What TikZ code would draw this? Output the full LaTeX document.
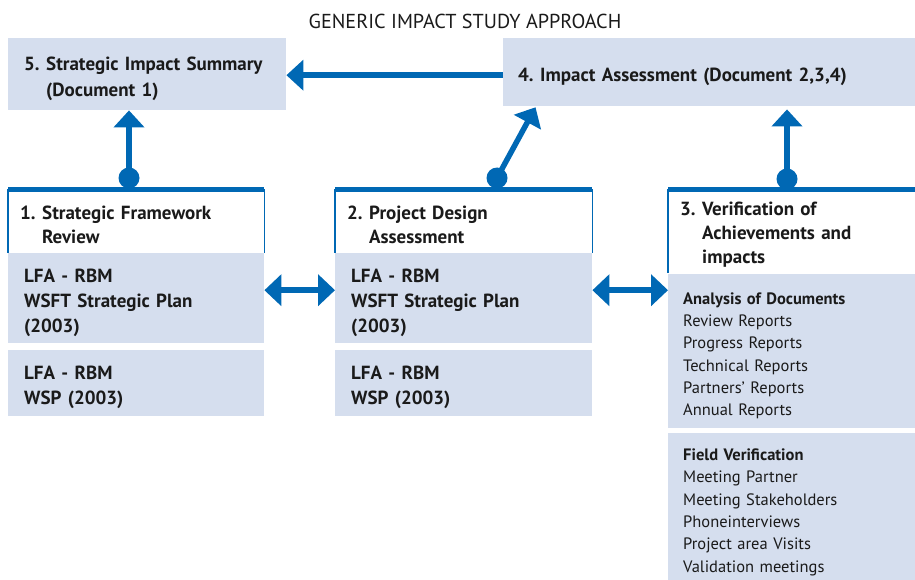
\documentclass[tikz,border=0pt]{standalone}
\usepackage{fontspec}
\setmainfont{PT Sans}
\usetikzlibrary{arrows.meta,positioning}
\definecolor{boxblue}{RGB}{213,222,238}
\definecolor{flowblue}{RGB}{0,104,180}
\definecolor{inktext}{RGB}{26,26,26}
\newcommand{\stepnum}[1]{\makebox[22pt][l]{#1}}

\begin{document}
\begin{tikzpicture}[x=1pt, y=-1pt,
  panel/.style={fill=boxblue, anchor=north west, inner xsep=16pt, inner ysep=0pt, align=left, text=inktext, font=\fontsize{19}{25}\selectfont\bfseries, execute at begin node={\rule{0pt}{22pt}}},
  header/.style={fill=white, anchor=north west, inner xsep=12pt, inner ysep=0pt, align=left, text=inktext, font=\fontsize{19}{24}\selectfont\bfseries, execute at begin node={\rule{0pt}{20pt}}},
  listpanel/.style={panel, inner xsep=15pt, font=\fontsize{16.5}{22.3}\selectfont, execute at begin node={\rule{0pt}{20pt}}},
  dot/.style={circle, fill=flowblue, minimum size=21pt, inner sep=0pt},
  flow/.style={draw=flowblue, line width=5.5pt, -{Triangle[width=30pt,length=17pt]}},
  both/.style={draw=flowblue, line width=5.5pt, {Triangle[width=31pt,length=17pt]}-{Triangle[width=31pt,length=17pt]}},
  rim/.style={draw=flowblue, line width=1.5pt},
  topline/.style={draw=flowblue, line width=5pt}]

   \useasboundingbox (0,0) rectangle (915,580);

   % Title
   \node[font=\fontsize{20.2}{23}\selectfont, text=inktext] (title) at (465,21) {GENERIC IMPACT STUDY APPROACH};

   % Define the top row
   \node[panel, font=\fontsize{19}{26}\selectfont\bfseries, text width=246pt, minimum height=72pt] (summary) at (8,38) {\stepnum{5.}Strategic Impact Summary\\\stepnum{}(Document 1)};
   \node[panel, inner xsep=15pt, text width=382pt, minimum height=68pt] (assess) at (503,38) {\stepnum{4.}Impact Assessment (Document 2,3,4)};

   % Define the column heads
   \node[header, text width=232pt, minimum height=63.5pt] (frame_head) at (8,189.5) {\stepnum{1.}Strategic Framework\\\stepnum{}Review};
   \node[header, text width=233pt, minimum height=63.5pt] (design_head) at (335,189.5) {\stepnum{2.}Project Design\\\stepnum{}Assessment};
   \node[header, text width=223pt, minimum height=83.5pt] (verif_head) at (668,189.5) {\stepnum{3.}Verification of\\\stepnum{}Achievements and\\\stepnum{}impacts};

   % Define the column boxes
   \node[panel, text width=224pt, minimum height=90pt] (frame_plan) at (8,253) {LFA - RBM\\WSFT Strategic Plan\\(2003)};
   \node[panel, text width=224pt, minimum height=66pt, below=6pt of frame_plan] (frame_wsp) {LFA - RBM\\WSP (2003)};
   \node[panel, text width=225pt, minimum height=90pt] (design_plan) at (335,253) {LFA - RBM\\WSFT Strategic Plan\\(2003)};
   \node[panel, text width=225pt, minimum height=66pt, below=6pt of design_plan] (design_wsp) {LFA - RBM\\WSP (2003)};
   \node[listpanel, text width=217pt, minimum height=154pt, below=0pt of verif_head] (verif_docs) {\textbf{Analysis of Documents}\\Review Reports\\Progress Reports\\Technical Reports\\Partners' Reports\\Annual Reports};
   \node[listpanel, text width=217pt, minimum height=148pt, below=5pt of verif_docs] (verif_field) {\textbf{Field Verification}\\Meeting Partner\\Meeting Stakeholders\\Phoneinterviews\\Project area Visits\\Validation meetings};

   % Head frames
   \draw[rim] (frame_head.north west) -- (frame_head.south west);
   \draw[rim] (frame_head.north east) -- (frame_head.south east);
   \draw[rim] (design_head.north west) -- (design_head.south west);
   \draw[rim] (design_head.north east) -- (design_head.south east);
   \draw[rim] (verif_head.north west) -- (verif_head.south west);
   \draw[topline] (frame_head.north west) -- (frame_head.north east);
   \draw[topline] (design_head.north west) -- (design_head.north east);
   \draw[topline] (verif_head.north west) -- (verif_head.north east);

   \node[dot] (frame_dot) at (129,178) {};
   \node[dot] (design_dot) at (497,178) {};
   \node[dot] (verif_dot) at (787,179) {};

   % Define arrows
   \draw[flow] ([yshift=-3pt]assess.west) -- ([yshift=-3pt]assess.west -| summary.east);
   \draw[flow] (frame_dot.center) -- (frame_dot.center |- summary.south);
   \draw[flow, shorten >=1pt] (design_dot.center) -- ([xshift=33pt]assess.south west);
   \draw[flow, shorten >=3pt] (verif_dot.center) -- (verif_dot.center |- assess.south);
   \draw[both] ([yshift=8pt]frame_plan.east) -- ([yshift=8pt]design_plan.west);
   \draw[both] ([yshift=8pt]design_plan.east) -- ([yshift=8pt]design_plan.east -| verif_docs.west);

\end{tikzpicture}
\end{document}
